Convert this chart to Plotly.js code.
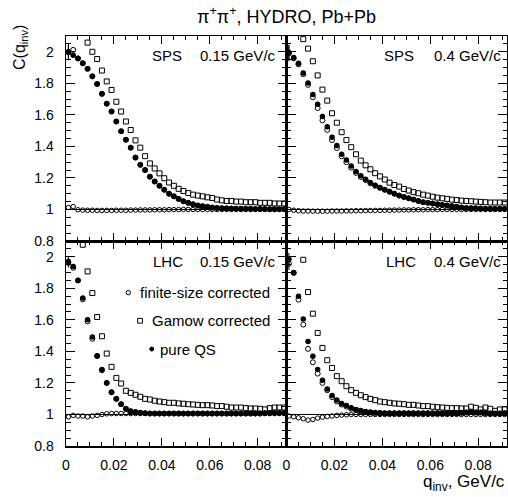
<!DOCTYPE html>
<html>
<head>
<meta charset="utf-8">
<script src="https://cdn.plot.ly/plotly-3.0.1.min.js"></script>
<style>html,body{margin:0;padding:0;background:#fff;}#chart{width:508px;height:497px;}</style>
</head>
<body>
<div id="chart"></div>
<script>
// bin centres (GeV/c)
const q = [0.001,0.003,0.005,0.007,0.009,0.011,0.013,0.015,0.017,0.019,
           0.021,0.023,0.025,0.027,0.029,0.031,0.033,0.035,0.037,0.039,
           0.041,0.043,0.045,0.047,0.049,0.051,0.053,0.055,0.057,0.059,
           0.061,0.063,0.065,0.067,0.069,0.071,0.073,0.075,0.077,0.079,
           0.081,0.083,0.085,0.087,0.089,0.091];

// SPS, kT = 0.15 GeV/c
const spsLowQS = [1.996,1.978,1.958,1.927,1.892,1.844,1.796,1.733,1.671,1.621,
                  1.558,1.496,1.442,1.392,1.329,1.283,1.250,1.208,1.177,1.150,
                  1.125,1.100,1.083,1.067,1.052,1.042,1.033,1.025,1.021,1.017,
                  1.012,1.010,1.008,1.007,1.006,1.005,1.005,1.004,1.004,1.003,
                  1.003,1.003,1.002,1.002,1.002,1.002];
const spsLowFS = [2.000,2.012,1.958,1.927,1.892,1.844,1.796,1.733,1.671,1.621,
                  1.558,1.496,1.442,1.392,1.329,1.283,1.250,1.208,1.177,1.150,
                  1.125,1.100,1.083,1.067,1.052,1.042,1.033,1.025,1.021,1.017,
                  1.012,1.010,1.008,1.007,1.006,1.005,1.005,1.004,1.004,1.003,
                  1.003,1.003,1.002,1.002,1.002,1.002];
const spsLowGamow = [null,null,null,null,2.058,2.000,1.954,1.881,1.812,1.758,
                  1.683,1.621,1.558,1.504,1.438,1.392,1.338,1.292,1.260,1.229,
                  1.198,1.171,1.150,1.131,1.117,1.104,1.094,1.088,1.083,1.077,
                  1.073,1.063,1.058,1.054,1.054,1.050,1.050,1.046,1.046,1.046,
                  1.042,1.042,1.042,1.038,1.038,1.038];
const spsLowRatio = [1.012,1.018,0.998,0.996,0.995,0.995,0.994,0.994,0.994,0.994,
                  0.995,0.995,0.995,0.996,0.996,0.997,0.997,0.997,0.998,0.998,
                  0.998,0.999,0.999,0.999,1.000,1.000,1.000,1.000,1.000,1.000,
                  1.000,1.000,1.000,1.000,1.000,1.000,1.000,1.000,1.000,1.000,
                  1.000,1.000,1.000,1.000,1.000,1.000];

// SPS, kT = 0.4 GeV/c
const spsHighQS = [1.996,1.963,1.927,1.865,1.802,1.729,1.667,1.590,1.525,1.458,
                  1.406,1.350,1.313,1.275,1.240,1.213,1.192,1.171,1.154,1.140,
                  1.125,1.113,1.100,1.088,1.079,1.071,1.063,1.054,1.046,1.042,
                  1.038,1.033,1.029,1.025,1.021,1.017,1.013,1.010,1.008,1.008,
                  1.006,1.004,1.004,1.004,1.004,1.004];
const spsHighFS = [1.990,1.958,1.920,1.858,1.790,1.712,1.643,1.565,1.505,1.440,
                  1.390,1.337,1.300,1.265,1.232,1.206,1.186,1.166,1.150,1.137,
                  1.125,1.113,1.100,1.088,1.079,1.071,1.063,1.054,1.046,1.042,
                  1.038,1.033,1.029,1.025,1.021,1.017,1.013,1.010,1.008,1.008,
                  1.006,1.004,1.004,1.004,1.004,1.004];
const spsHighGamow = [null,null,null,2.080,2.020,1.940,1.850,1.760,1.690,1.610,
                  1.550,1.490,1.440,1.395,1.350,1.310,1.280,1.255,1.230,1.210,
                  1.190,1.170,1.155,1.145,1.130,1.120,1.110,1.103,1.094,1.088,
                  1.081,1.075,1.071,1.067,1.062,1.060,1.056,1.054,1.052,1.050,
                  1.048,1.046,1.044,1.044,1.044,1.044];
const spsHighRatio = [1.000,0.995,0.992,0.990,0.990,0.989,0.989,0.989,0.989,0.990,
                  0.990,0.990,0.991,0.991,0.992,0.992,0.993,0.993,0.994,0.994,
                  0.995,0.995,0.996,0.996,0.997,0.997,0.998,0.998,0.998,0.999,
                  0.999,0.999,1.000,1.000,1.000,1.000,1.000,1.000,1.000,1.000,
                  1.000,1.000,1.000,1.000,1.000,1.000];

// LHC, kT = 0.15 GeV/c
const lhcLowQS = [1.970,1.939,1.850,1.738,1.601,1.492,1.373,1.285,1.200,1.141,
                  1.099,1.065,1.036,1.021,1.015,1.011,1.008,1.006,1.006,1.006,
                  1.006,1.006,1.006,1.006,1.006,1.006,1.006,1.006,1.006,1.006,
                  1.006,1.006,1.006,1.006,1.006,1.006,1.006,1.006,1.006,1.006,
                  1.006,1.008,1.008,1.010,1.010,1.010];
const lhcLowFS = [1.962,1.930,1.850,1.730,1.590,1.480,1.370,1.280,1.200,1.141,
                  1.099,1.065,1.036,1.021,1.015,1.011,1.008,1.006,1.006,1.006,
                  1.006,1.006,1.006,1.006,1.006,1.006,1.006,1.006,1.006,1.006,
                  1.006,1.006,1.006,1.006,1.006,1.006,1.006,1.006,1.006,1.006,
                  1.006,1.008,1.008,1.010,1.010,1.010];
const lhcLowGamow = [null,null,null,2.076,1.907,1.770,1.618,1.496,1.386,1.302,
                  1.232,1.196,1.150,1.137,1.125,1.112,1.099,1.095,1.087,1.082,
                  1.078,1.074,1.074,1.070,1.068,1.065,1.063,1.061,1.059,1.059,
                  1.057,1.053,1.053,1.049,1.044,1.044,1.044,1.040,1.038,1.038,
                  1.036,1.032,1.040,1.044,1.044,1.044];
const lhcLowRatio = [0.985,0.994,0.990,0.990,0.985,0.990,0.994,1.000,1.004,1.006,
                  1.006,1.006,1.006,1.006,1.006,1.006,1.006,1.006,1.006,1.006,
                  1.006,1.006,1.006,1.006,1.006,1.006,1.006,1.006,1.006,1.006,
                  1.006,1.006,1.006,1.006,1.006,1.006,1.006,1.006,1.006,1.006,
                  1.006,1.006,1.006,1.006,1.006,1.006];

// LHC, kT = 0.4 GeV/c
const lhcHighQS = [1.985,1.901,1.749,1.605,1.462,1.369,1.285,1.217,1.162,1.120,
                  1.091,1.070,1.057,1.042,1.032,1.025,1.019,1.015,1.013,1.011,
                  1.008,1.008,1.008,1.008,1.008,1.008,1.008,1.008,1.008,1.008,
                  1.008,1.008,1.008,1.008,1.008,1.008,1.011,1.013,1.015,1.013,
                  1.013,1.010,1.006,1.006,1.006,1.008];
const lhcHighFS = [1.956,1.897,1.728,1.570,1.416,1.331,1.259,1.200,1.154,1.110,
                  1.083,1.063,1.050,1.037,1.028,1.020,1.015,1.012,1.010,1.008,
                  1.008,1.008,1.008,1.008,1.008,1.008,1.008,1.008,1.008,1.008,
                  1.008,1.008,1.008,1.008,1.008,1.008,1.011,1.013,1.015,1.013,
                  1.013,1.010,1.006,1.006,1.006,1.008];
const lhcHighGamow = [null,null,null,1.981,1.776,1.639,1.517,1.422,1.344,1.295,
                  1.243,1.211,1.179,1.154,1.137,1.122,1.110,1.099,1.091,1.082,
                  1.078,1.074,1.070,1.068,1.065,1.061,1.061,1.057,1.053,1.053,
                  1.049,1.046,1.044,1.042,1.040,1.040,1.038,1.038,1.049,1.042,
                  1.032,1.044,1.036,1.023,1.032,1.032];
const lhcHighRatio = [0.990,0.985,0.979,0.973,0.964,0.968,0.977,0.983,0.987,0.990,
                  0.994,0.996,0.998,1.000,1.000,1.000,1.000,1.000,1.000,1.000,
                  1.000,1.000,1.000,1.000,1.000,1.000,1.000,1.000,1.000,1.000,
                  1.000,1.000,1.000,1.000,1.000,1.000,1.000,1.000,1.000,1.000,
                  1.000,1.000,1.000,1.000,1.000,1.000];

// statistical error on the first bin of each panel
const firstBinErr = [0.05, 0.05, 0.03, 0.04];
const binHalfWidth = [0.001];

const xTickVals = [0, 0.02, 0.04, 0.06, 0.08];
const xTickText = ['0', '0.02', '0.04', '0.06', '0.08'];
const yTickVals = [0.8, 1, 1.2, 1.4, 1.6, 1.8, 2];
const yTickText = ['0.8', '1', '1.2', '1.4', '1.6', '1.8', '2'];

const panelLabels = [['SPS', '0.15 GeV/c'], ['SPS', '0.4 GeV/c'], ['LHC', '0.15 GeV/c'], ['LHC', '0.4 GeV/c']];
const legendNames = ['finite-size corrected', 'Gamow corrected', 'pure QS'];

const panels = [
  {qs: spsLowQS, fs: spsLowFS, gam: spsLowGamow, ratio: spsLowRatio},
  {qs: spsHighQS, fs: spsHighFS, gam: spsHighGamow, ratio: spsHighRatio},
  {qs: lhcLowQS, fs: lhcLowFS, gam: lhcLowGamow, ratio: lhcLowRatio},
  {qs: lhcHighQS, fs: lhcHighFS, gam: lhcHighGamow, ratio: lhcHighRatio}
];

const traces = [];
panels.forEach((p, i) => {
  const xa = i === 0 ? 'x' : 'x' + (i + 1);
  const ya = i === 0 ? 'y' : 'y' + (i + 1);
  const errY = q.map((v, k) => k === 0 ? firstBinErr[i] : 0);
  const errX = q.map((v, k) => k === 0 ? binHalfWidth[0] : 0);
  traces.push({x: q, y: p.ratio, xaxis: xa, yaxis: ya, mode: 'markers', type: 'scatter',
    marker: {symbol: 'circle-open', size: 4.5, color: 'black', line: {width: 1, color: 'black'}}, hoverinfo: 'skip'});
  traces.push({x: q, y: p.fs, xaxis: xa, yaxis: ya, mode: 'markers', type: 'scatter', name: legendNames[0],
    marker: {symbol: 'circle-open', size: 5, color: 'black', line: {width: 1, color: 'black'}},
    error_y: {type: 'data', array: errY, visible: true, width: 0, thickness: 1, color: 'black'}});
  traces.push({x: q, y: p.gam, xaxis: xa, yaxis: ya, mode: 'markers', type: 'scatter', name: legendNames[1],
    marker: {symbol: 'square-open', size: 5, color: 'black', line: {width: 1, color: 'black'}}});
  traces.push({x: q, y: p.qs, xaxis: xa, yaxis: ya, mode: 'markers', type: 'scatter', name: legendNames[2],
    marker: {symbol: 'circle', size: 5.5, color: 'black'},
    error_y: {type: 'data', array: errY, visible: true, width: 0, thickness: 1, color: 'black'},
    error_x: {type: 'data', array: errX, visible: true, width: 0, thickness: 1, color: 'black'}});
});

const xbase = {
  range: [0, 0.092], tickmode: 'array', tickvals: xTickVals, ticktext: xTickText,
  ticks: 'inside', ticklen: 8, tickwidth: 1, tickcolor: 'black',
  minor: {tickmode: 'linear', tick0: 0, dtick: 0.005, ticks: 'inside', ticklen: 4, tickwidth: 1, tickcolor: 'black', showgrid: false},
  showline: true, mirror: 'allticks', linecolor: 'black', linewidth: 1.5,
  showgrid: false, zeroline: false, ticklabelstandoff: 6,
  tickfont: {size: 14, color: 'black'}
};
const ybase = {
  range: [0.8, 2.1], tickmode: 'array', tickvals: yTickVals, ticktext: yTickText,
  ticks: 'inside', ticklen: 9, tickwidth: 1, tickcolor: 'black',
  minor: {tickmode: 'linear', tick0: 0.8, dtick: 0.05, ticks: 'inside', ticklen: 4.5, tickwidth: 1, tickcolor: 'black', showgrid: false},
  showline: true, mirror: 'allticks', linecolor: 'black', linewidth: 1.5,
  showgrid: false, zeroline: false, ticklabelstandoff: 8,
  tickfont: {size: 14, color: 'black'}
};

const annotations = [];
const labelPos = [[0.381, 0.599, 0.907], [0.432, 0.658, 0.907], [0.384, 0.599, 0.899], [0.442, 0.658, 0.899]];
panelLabels.forEach((lab, i) => {
  const xr = (i === 0 ? 'x' : 'x' + (i + 1)) + ' domain';
  const yr = (i === 0 ? 'y' : 'y' + (i + 1)) + ' domain';
  annotations.push({text: lab[0], xref: xr, yref: yr, x: labelPos[i][0], y: labelPos[i][2], xanchor: 'left', yanchor: 'middle', showarrow: false, font: {size: 15}});
  annotations.push({text: lab[1], xref: xr, yref: yr, x: labelPos[i][1], y: labelPos[i][2], xanchor: 'left', yanchor: 'middle', showarrow: false, font: {size: 15}});
});
const legPos = [[0.2825, 0.328, 0.748], [0.336, 0.381, 0.611], [0.389, 0.419, 0.473]];
legendNames.forEach((n, i) => {
  annotations.push({text: n, xref: 'x3 domain', yref: 'y3 domain', x: legPos[i][1], y: legPos[i][2], xanchor: 'left', yanchor: 'middle', showarrow: false, font: {size: 15}});
});
annotations.push({text: 'π<sup>+</sup>π<sup>+</sup>, HYDRO, Pb+Pb', xref: 'paper', yref: 'paper', x: 0.5, y: 1, yanchor: 'middle', yshift: 21, showarrow: false, font: {size: 18}});
annotations.push({text: 'C(q<sub>inv</sub>)', xref: 'paper', yref: 'paper', x: 0, y: 1, xanchor: 'center', yanchor: 'middle', xshift: -46, yshift: -12, textangle: -90, showarrow: false, font: {size: 16}});
annotations.push({text: 'q<sub>inv</sub>, GeV/c', xref: 'paper', yref: 'paper', x: 1, y: 0, xanchor: 'right', yanchor: 'middle', yshift: -37, showarrow: false, font: {size: 17}});

const shapes = [];
['', '2', '3', '4'].forEach(s => {
  shapes.push({type: 'line', xref: 'x' + s + ' domain', yref: 'y' + s, x0: 0, x1: 1, y0: 1, y1: 1, line: {color: 'black', width: 1}, layer: 'below'});
});
const mk = (type, i, r, fill) => ({type: type, xref: 'x3 domain', yref: 'y3 domain', xsizemode: 'pixel', ysizemode: 'pixel',
  xanchor: legPos[i][0], yanchor: legPos[i][2], x0: -r, x1: r, y0: -r, y1: r, line: {color: 'black', width: 1}, fillcolor: fill});
shapes.push(mk('circle', 0, 2.2, 'rgba(0,0,0,0)'));
shapes.push(mk('rect', 1, 2.4, 'rgba(0,0,0,0)'));
shapes.push(mk('circle', 2, 2.0, 'black'));

const layout = {
  width: 508, height: 497, margin: {l: 66, r: 1, t: 36, b: 51},
  showlegend: false, paper_bgcolor: 'white', plot_bgcolor: 'white',
  font: {family: 'Liberation Sans, Arial, sans-serif', color: 'black', size: 14},
  xaxis: Object.assign({}, xbase, {domain: [0, 0.5], anchor: 'y', showticklabels: false}),
  xaxis2: Object.assign({}, xbase, {domain: [0.5, 1], anchor: 'y2', showticklabels: false}),
  xaxis3: Object.assign({}, xbase, {domain: [0, 0.5], anchor: 'y3'}),
  xaxis4: Object.assign({}, xbase, {domain: [0.5, 1], anchor: 'y4'}),
  yaxis: Object.assign({}, ybase, {domain: [0.5, 1], anchor: 'x'}),
  yaxis2: Object.assign({}, ybase, {domain: [0.5, 1], anchor: 'x2', showticklabels: false}),
  yaxis3: Object.assign({}, ybase, {domain: [0, 0.5], anchor: 'x3'}),
  yaxis4: Object.assign({}, ybase, {domain: [0, 0.5], anchor: 'x4', showticklabels: false}),
  annotations: annotations, shapes: shapes
};

Plotly.newPlot('chart', traces, layout, {displayModeBar: false, staticPlot: true});
</script>
</body>
</html>
